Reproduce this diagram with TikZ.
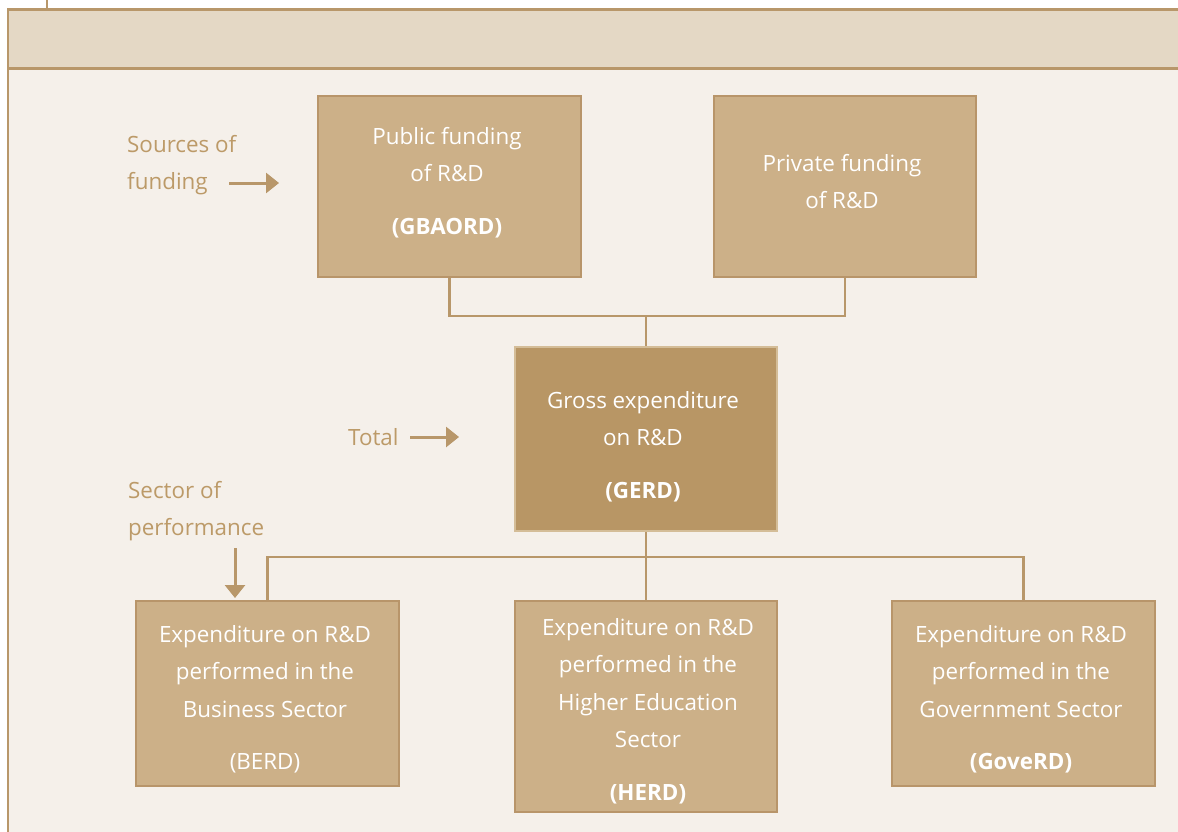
\documentclass[tikz,border=0pt]{standalone}
\usepackage{fontspec}
\setmainfont{Open Sans}
\usetikzlibrary{arrows.meta}
\definecolor{bandfill}{HTML}{E4D8C5}
\definecolor{bodyfill}{HTML}{F5F0EA}
\definecolor{lineclr}{HTML}{B8976A}
\definecolor{boxfill}{HTML}{CCB088}
\definecolor{boxedge}{HTML}{B8956A}
\definecolor{gerdfill}{HTML}{B89665}
\definecolor{gerdedge}{HTML}{D4BD98}
\definecolor{lblclr}{HTML}{BC9A68}
\tikzset{
  box/.style={draw=boxedge, fill=boxfill, line width=2.6pt, inner sep=0pt},
  gerdbox/.style={box, draw=gerdedge, fill=gerdfill},
  boxtext/.style={align=center, text=white, inner sep=0pt, font=\fontsize{22.4}{37.5}\selectfont},
  conn/.style={draw=lineclr, line width=2.6pt},
  side/.style={text=lblclr, font=\fontsize{22.4}{37.5}\selectfont, align=left, anchor=north west, inner sep=0pt},
  pointer/.style={draw=lineclr, line width=3pt, -{Triangle[length=13pt,width=20pt]}}
}
\begin{document}
\begin{tikzpicture}[x=1pt,y=-1pt]
\useasboundingbox (0,0) rectangle (1178,832);
\fill[white] (0,0) rectangle (1178,832);
% body and band
\fill[bodyfill] (8,68.5) rectangle (1180,834);
\draw[conn] (8,834) -- (8,68.5);
\draw[conn, fill=bandfill] (1182,9.5) -- (8,9.5) -- (8,68.5) -- (1182,68.5);
\draw[conn] (47,0) -- (47,9.5);
% boxes
\node[box, minimum width=263pt, minimum height=181pt] (pub) at (449.5,186.5) {};
\node[box, minimum width=262pt, minimum height=181pt] (priv) at (845,186.5) {};
\node[gerdbox, minimum width=262pt, minimum height=184pt] (gerd) at (646,439) {};
\node[box, minimum width=263pt, minimum height=185pt] (berd) at (267.5,693.5) {};
\node[box, minimum width=262pt, minimum height=211pt] (herd) at (646,706.5) {};
\node[box, minimum width=263pt, minimum height=185pt] (gov) at (1023.5,693.5) {};
% box texts
\node[boxtext] (pubt) at (447,182.5) {Public funding\\ of R\&D\\[15pt] \textbf{(GBAORD)}};
\node[boxtext] (privt) at (842,181.5) {Private funding\\ of R\&D};
\node[boxtext] (gerdt) at (643,446.5) {Gross expenditure\\ on R\&D\\[15pt] \textbf{(GERD)}};
\node[boxtext] (berdt) at (265,699.5) {Expenditure on R\&D\\ performed in the\\ Business Sector\\[15pt] (BERD)};
\node[boxtext] (herdt) at (648,711) {Expenditure on R\&D\\ performed in the\\ Higher Education\\ Sector\\[15pt] \textbf{(HERD)}};
\node[boxtext] (govt) at (1021,699.5) {Expenditure on R\&D\\ performed in the\\ Government Sector\\[15pt] \textbf{(GoveRD)}};
% connectors
\coordinate (j1) at (646,316);
\coordinate (j2) at (646,557);
\draw[conn] (pub.south) |- (j1) -| (priv.south);
\draw[conn] (j1) -- (gerd.north);
\draw[conn] (gerd.south) -- (herd.north);
\draw[conn] (berd.north) |- (j2) -| (gov.north);
% side labels
\node[side] (src) at (127,135) {Sources of\\ funding};
\node[side, anchor=west] (tot) at (348,437) {Total};
\node[side] (sec) at (128,481) {Sector of\\ performance};
\coordinate (a1s) at (229,183); \coordinate (a1e) at (279,183);
\coordinate (a2s) at (410,437); \coordinate (a2e) at (459,437);
\coordinate (a3s) at (235,548); \coordinate (a3e) at (235,598);
\draw[pointer] (a1s) -- (a1e);
\draw[pointer] (a2s) -- (a2e);
\draw[pointer] (a3s) -- (a3e);
\end{tikzpicture}
\end{document}
